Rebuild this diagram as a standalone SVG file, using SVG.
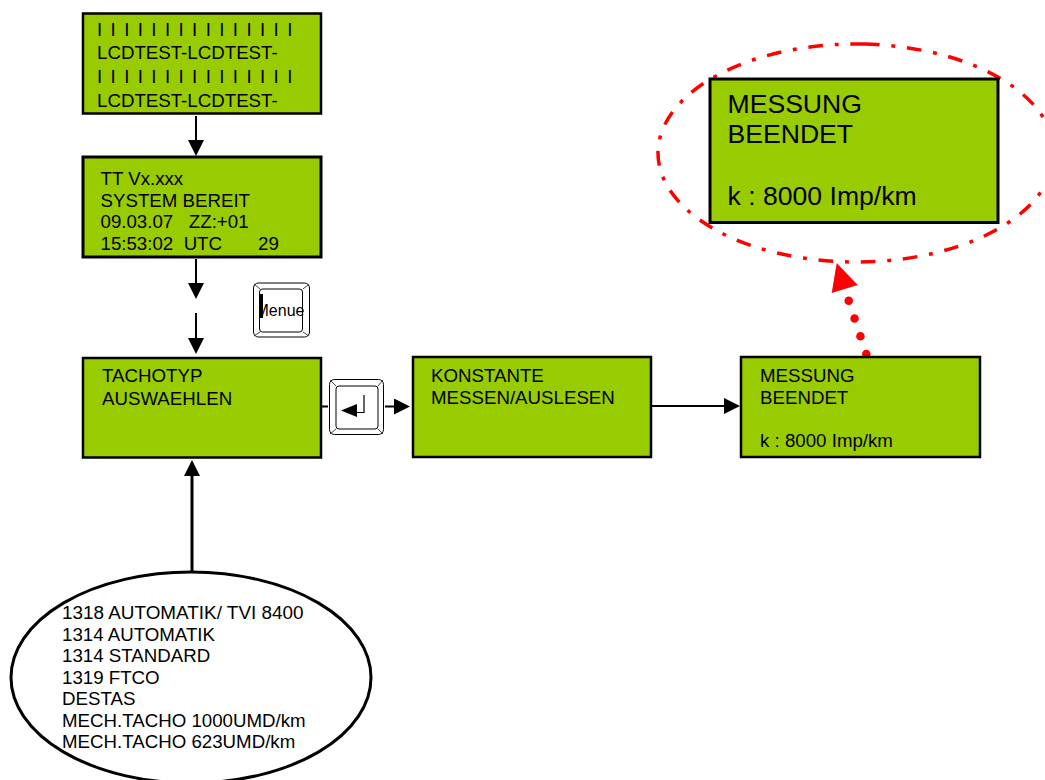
<svg xmlns="http://www.w3.org/2000/svg" width="1045" height="780" viewBox="0 0 1045 780">
<style>
text{font-family:"Liberation Sans",Arial,sans-serif;fill:#000}
.b{fill:#99cc00;stroke:#000;stroke-width:2.5}
.t{font-size:18.7px}
.l{font-size:26.6px}
.bars{font-size:18.7px;word-spacing:3.2px}
.c{stroke:#000;stroke-width:2;fill:none}
.k{fill:#fff;stroke:#000;stroke-width:1}
.kb{fill:none;stroke:#444;stroke-width:1}
</style>
<defs>
<marker id="a" markerUnits="userSpaceOnUse" markerWidth="16" markerHeight="16" refX="8" refY="8" orient="auto"><path d="M0 0L16 8L0 16Z" fill="#000"/></marker>
</defs>
<g id="connectors">
<path class="c" d="M196 116V148" marker-end="url(#a)"/>
<path class="c" d="M196 259V291" marker-end="url(#a)"/>
<path class="c" d="M196 313V346" marker-end="url(#a)"/>
<path class="c" d="M322 406.500H328"/>
<path class="c" d="M385 406.500H402" marker-end="url(#a)"/>
<path class="c" d="M652 406H732" marker-end="url(#a)"/>
<path d="M192 572V468" stroke="#000" stroke-width="3" fill="none" marker-end="url(#a)"/>
<path d="M866.300 354L848.700 300.700" stroke="#f00" stroke-width="8.600" stroke-linecap="round" stroke-dasharray="0 18.700" fill="none"/>
<path d="M836.700 263L857.700 285L831.700 293Z" fill="#f00"/>
</g>
<g id="lcd1"><rect class="b" x="83" y="13.500" width="238" height="100"/>
<text class="bars" x="97" y="36">I I I I I I I I I I I I I I I</text>
<text class="t" x="97" y="59">LCDTEST-LCDTEST-</text>
<text class="bars" x="97" y="83">I I I I I I I I I I I I I I I</text>
<text class="t" x="97" y="107">LCDTEST-LCDTEST-</text></g>
<g id="lcd2"><rect x="83" y="157" width="238" height="100" fill="#99cc00" stroke="#000" stroke-width="3"/>
<text class="t" x="100.500" y="185">TT Vx.xxx</text>
<text class="t" x="100.500" y="207">SYSTEM BEREIT</text>
<text class="t" x="100.500" y="228" xml:space="preserve">09.03.07   ZZ:+01</text>
<text class="t" x="100.500" y="250" xml:space="preserve">15:53:02  UTC</text><text class="t" x="258" y="250">29</text></g>
<g id="key-menue"><rect class="k" x="253.500" y="283" width="56" height="54" rx="5" stroke-width="1.500"/><rect class="k" x="259.500" y="289" width="43" height="43" rx="3"/>
<path class="kb" d="M254 284L260 289M309 284L303 289M254 336L260 332M309 336L303 332"/>
<text x="255.500" y="316" font-size="16">Menue</text>
<rect x="254.500" y="298" width="4.500" height="20" fill="#fff"/>
<rect x="259" y="294" width="4" height="24" fill="#000"/></g>
<g id="tachotyp"><rect class="b" x="83" y="358" width="238" height="99.500"/>
<text class="t" x="102" y="382">TACHOTYP</text><text class="t" x="102" y="405">AUSWAEHLEN</text></g>
<g id="key-enter"><rect class="k" x="329.500" y="379.500" width="54" height="55" rx="5" stroke-width="1.500"/><rect class="k" x="336" y="386" width="42" height="43" rx="3"/>
<path class="kb" d="M330 380L336 386M383 380L378 386M330 434L336 429M383 434L378 429"/>
<path d="M364 395V412.500H350" fill="none" stroke="#000" stroke-width="1.200"/><path d="M341 410.500L357 404V417Z" fill="#000"/></g>
<g id="konstante"><rect class="b" x="413" y="357" width="238" height="100"/>
<text class="t" x="431" y="382">KONSTANTE</text><text class="t" x="431" y="404">MESSEN/AUSLESEN</text></g>
<g id="messung"><rect class="b" x="741" y="357" width="239" height="100"/>
<text class="t" x="760" y="382">MESSUNG</text><text class="t" x="760" y="404">BEENDET</text><text class="t" x="760" y="447">k : 8000 Imp/km</text></g>
<g id="highlight"><path d="M865 44.100A198 109 0 1 1 847 44.100A198 109 0 0 1 865 44.100Z" pathLength="1004" fill="none" stroke="#f00" stroke-width="3.500" stroke-dasharray="15 12 4 12"/></g>
<g id="messung-large"><rect x="710" y="79" width="288" height="143.500" fill="#99cc00" stroke="#000" stroke-width="3"/>
<text class="l" x="727.500" y="113">MESSUNG</text><text class="l" x="727.500" y="143">BEENDET</text><text class="l" x="727.500" y="205">k : 8000 Imp/km</text></g>
<g id="tacho-list"><ellipse cx="191" cy="677.500" rx="180" ry="105.500" fill="#fff" stroke="#000" stroke-width="3"/>
<text class="t" x="62" y="619" style="font-size:18.9px">1318 AUTOMATIK/ TVI 8400</text>
<text class="t" x="62" y="641">1314 AUTOMATIK</text>
<text class="t" x="62" y="662">1314 STANDARD</text>
<text class="t" x="62" y="684">1319 FTCO</text>
<text class="t" x="62" y="705">DESTAS</text>
<text class="t" x="62" y="727">MECH.TACHO 1000UMD/km</text>
<text class="t" x="62" y="748">MECH.TACHO 623UMD/km</text></g>
</svg>
